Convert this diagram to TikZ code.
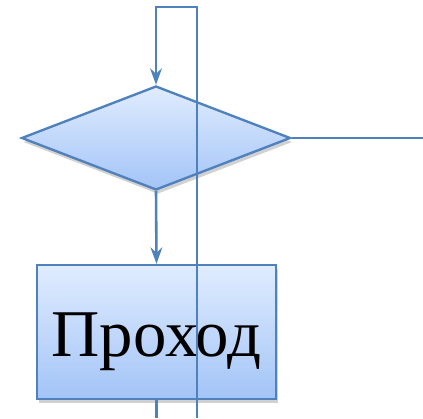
\documentclass[tikz,border=0pt]{standalone}
\usepackage{fontspec}
\setmainfont{Liberation Serif}
\usetikzlibrary{shapes.geometric, arrows.meta, shadows}

\definecolor{flowline}{RGB}{79,129,189}
\definecolor{filltop}{RGB}{224,236,254}
\definecolor{fillbot}{RGB}{163,196,247}

\begin{document}
\begin{tikzpicture}[
  x = 0.03cm,
  y = -0.03cm,
  block/.style = {
    draw = flowline,
    line width = 2pt,
    top color = filltop,
    bottom color = fillbot,
    inner sep = 0pt,
    drop shadow = {shadow xshift = 1.5pt, shadow yshift = -3.5pt,
      fill = black!60, opacity = 0.3},
  },
  decision/.style = {
    block,
    shape = diamond,
    minimum width = 8.07cm,
    minimum height = 3.12cm,
  },
  process/.style = {
    block,
    shape = rectangle,
    minimum width = 7.17cm,
    minimum height = 4.02cm,
    text depth = 0pt,
    font = \fontsize{57}{60}\selectfont,
  },
  link/.style = {
    draw = flowline,
    line width = 2.2pt
  },
  flow/.style = {
    link,
    -{Stealth[length = 14pt, width = 10pt]}
  }
]
  \useasboundingbox (0, 0) rectangle (423, 418);

  \node[decision] (cond) at (156, 138) {};
  \node[process] (pass) at (156.5, 332) {\raisebox{-4pt}{Проход}};

  \coordinate (loopin) at (197, 418);
  \coordinate (looptop) at (197, 7);
  \coordinate (exit) at (423, 138);
  \coordinate (down) at (156.5, 418);

  \draw[flow] (loopin) -- (looptop) -| (cond.north);
  \draw[flow] (cond.south) -- (pass.north);
  \draw[link] (cond.east) -- (exit);
  \draw[link] (pass.south) -- (down);
\end{tikzpicture}
\end{document}
